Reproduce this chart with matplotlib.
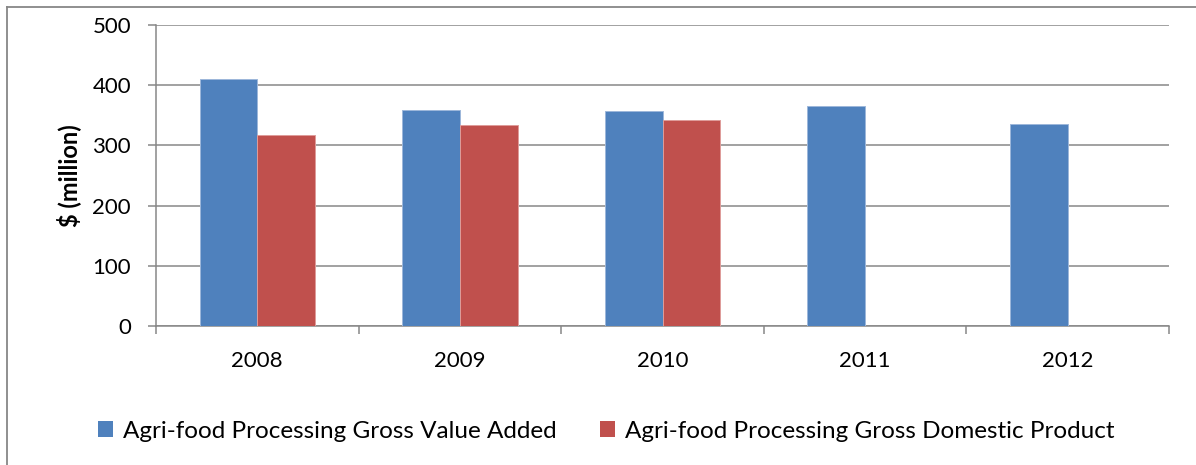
"""Agri-food processing GVA vs GDP bar chart."""

import matplotlib

matplotlib.use("Agg")
import matplotlib.pyplot as plt
import numpy as np
from matplotlib.lines import Line2D
from matplotlib.patches import Patch

years = ["2008", "2009", "2010", "2011", "2012"]
gva = [411, 359, 357, 365, 336]
gdp = [318, 334, 342, np.nan, np.nan]
series_names = [
    "Agri-food Processing Gross Value Added",
    "Agri-food Processing Gross Domestic Product",
]
y_ticks = [0, 100, 200, 300, 400, 500]

COLORS = {
    "gva": "#4F81BD",
    "gva_edge": "#9DB7DA",
    "gdp": "#C0504D",
    "gdp_edge": "#DE9C9A",
    "grid": "#878787",
    "text": "#000000",
}

plt.rcParams["font.family"] = ["Lato", "DejaVu Sans"]
TICK_FS = 16
LEGEND_FS = 17.5

W, H = 1196, 465
fig = plt.figure(figsize=(W / 100, H / 100), dpi=100)
ax = fig.add_axes([156 / W, 1 - 326 / H, (1169 - 156) / W, (326 - 25) / H])

x = np.arange(len(years))
bw = 0.285
ax.bar(x - bw / 2, gva, bw, color=COLORS["gva"], edgecolor=COLORS["gva_edge"], linewidth=0.7, zorder=3)
ax.bar(x + bw / 2, gdp, bw, color=COLORS["gdp"], edgecolor=COLORS["gdp_edge"], linewidth=0.7, zorder=3)

ax.set_xlim(-0.5, len(years) - 0.5)
ax.set_ylim(0, 500)
ax.set_yticks(y_ticks)
ax.set_yticklabels([str(v) for v in y_ticks])
ax.set_xticks(x)
ax.set_xticklabels(years)
ax.set_xticks(np.arange(len(years) + 1) - 0.5, minor=True)

ax.grid(axis="y", color=COLORS["grid"], linewidth=1.1, zorder=0)
ax.set_axisbelow(True)
for side in ["top", "right"]:
    ax.spines[side].set_visible(False)
for side in ["left", "bottom"]:
    ax.spines[side].set_color(COLORS["grid"])
    ax.spines[side].set_linewidth(1.1)

ax.tick_params(axis="y", length=6, width=1.1, color=COLORS["grid"], pad=12, labelsize=TICK_FS)
ax.tick_params(axis="x", which="major", length=0, pad=18, labelsize=TICK_FS)
ax.tick_params(axis="x", which="minor", length=6, width=1.1, color=COLORS["grid"])

ax.set_ylabel("$ (million)", fontsize=17, fontweight="bold")
ax.yaxis.set_label_coords(-0.0743, 0.5)

handles = [
    Patch(facecolor=COLORS["gva"], edgecolor="none"),
    Patch(facecolor=COLORS["gdp"], edgecolor="none"),
]
fig.legend(
    handles,
    series_names,
    loc="center",
    bbox_to_anchor=(0.507, 1 - 431 / H),
    ncol=2,
    frameon=False,
    fontsize=LEGEND_FS,
    handlelength=0.62,
    handleheight=0.62,
    handletextpad=0.41,
    columnspacing=1.8,
)

# outer chart frame (right and bottom edges fall outside the crop)
fx, fy = 7 / W, 1 - 7 / H
fig.add_artist(Line2D([fx, fx], [0, fy], transform=fig.transFigure, color=COLORS["grid"], linewidth=1.3))
fig.add_artist(Line2D([fx, 1], [fy, fy], transform=fig.transFigure, color=COLORS["grid"], linewidth=1.3))

fig.savefig("out.png", dpi=100, facecolor="white")
